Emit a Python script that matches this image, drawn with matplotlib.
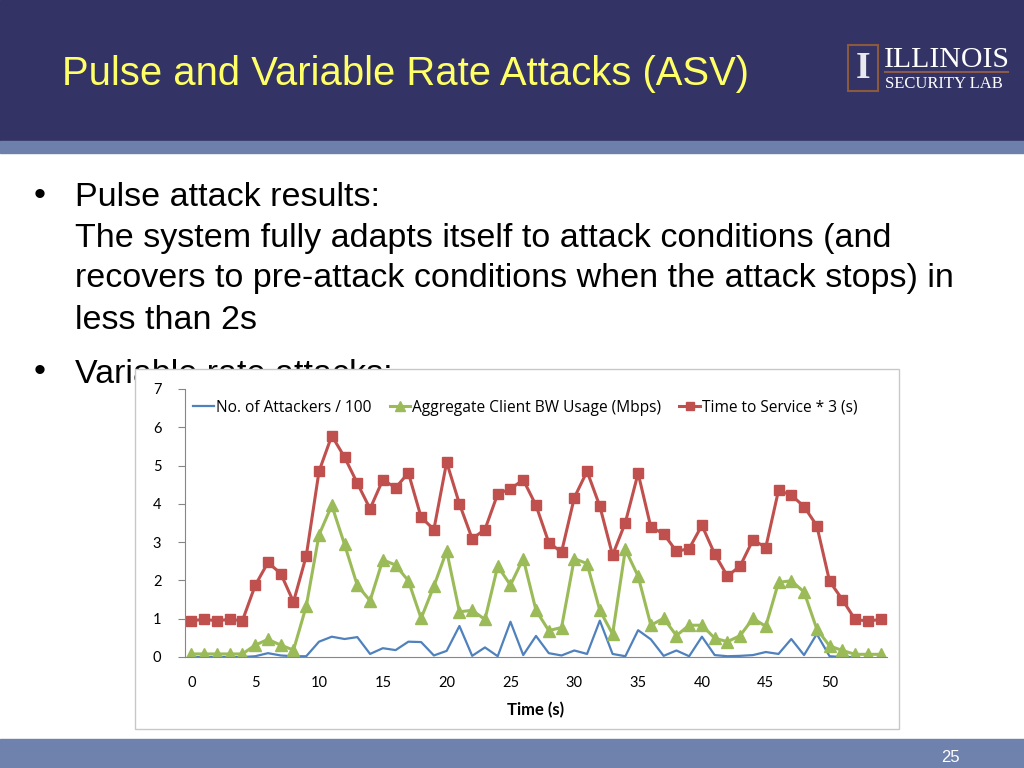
import matplotlib.pyplot as plt
from matplotlib.patches import Rectangle
from matplotlib.lines import Line2D
import numpy as np

# data, t = 0..54 s
time_s = list(range(55))
attackers = [0, 0, 0, 0, 0, 0.02, 0.10, 0.04, 0.02, 0.02,
             0.40, 0.53, 0.47, 0.52, 0.08, 0.23, 0.18, 0.40, 0.39, 0.04,
             0.16, 0.81, 0.03, 0.25, 0.02, 0.92, 0.05, 0.55, 0.10, 0.04,
             0.17, 0.08, 0.95, 0.08, 0.02, 0.70, 0.46, 0.03, 0.17, 0.02,
             0.53, 0.05, 0.02, 0.03, 0.05, 0.13, 0.08, 0.47, 0.05, 0.60,
             0.02, 0.0, 0.0, np.nan, np.nan]
client_bw = [0.08, 0.08, 0.08, 0.08, 0.08, 0.31, 0.46, 0.31, 0.18, 1.33,
             3.19, 3.96, 2.94, 1.87, 1.47, 2.54, 2.40, 1.99, 1.01, 1.85,
             2.77, 1.18, 1.22, 0.98, 2.37, 1.88, 2.57, 1.22, 0.69, 0.77,
             2.57, 2.44, 1.22, 0.60, 2.81, 2.11, 0.83, 1.01, 0.56, 0.83,
             0.83, 0.49, 0.40, 0.56, 1.01, 0.80, 1.95, 1.99, 1.70, 0.73,
             0.29, 0.17, 0.07, 0.07, 0.07]
service_time = [0.95, 0.98, 0.95, 0.98, 0.95, 1.87, 2.47, 2.18, 1.44, 2.64,
                4.85, 5.78, 5.22, 4.54, 3.87, 4.63, 4.42, 4.81, 3.65, 3.33,
                5.09, 4.00, 3.09, 3.33, 4.26, 4.39, 4.63, 3.96, 2.99, 2.74,
                4.16, 4.85, 3.94, 2.66, 3.51, 4.80, 3.39, 3.22, 2.76, 2.83,
                3.44, 2.69, 2.11, 2.38, 3.06, 2.86, 4.35, 4.23, 3.93, 3.43,
                1.98, 1.50, 0.98, 0.94, 0.98]
series_labels = ['No. of Attackers / 100', 'Aggregate Client BW Usage (Mbps)',
                 'Time to Service * 3 (s)']
x_ticks = [0, 5, 10, 15, 20, 25, 30, 35, 40, 45, 50]

title = 'Pulse and Variable Rate Attacks (ASV)'
bullets = ['Pulse attack results:',
           'The system fully adapts itself to attack conditions (and',
           'recovers to pre-attack conditions when the attack stops) in',
           'less than 2s']

W, H = 1024, 768
fig = plt.figure(figsize=(W / 100, H / 100), dpi=100)

def fx(px):
    return px / W

def fy(py):
    return 1 - py / H

# slide header and footer
fig.add_artist(Rectangle((0, fy(141)), 1, 141 / H, transform=fig.transFigure,
                         color='#333366', zorder=1))
fig.add_artist(Rectangle((0, fy(153)), 1, 12 / H, transform=fig.transFigure,
                         color='#6d80ab', zorder=1))
fig.add_artist(Rectangle((0, 0), 1, 29 / H, transform=fig.transFigure,
                         color='#6f82ad', zorder=1))
fig.text(fx(950), fy(757), '25', color='white', fontsize=12,
         family='Liberation Sans', ha='center', va='center', zorder=2)

fig.text(fx(62), fy(74), title, color='#ffff66', fontsize=28.8,
         family='Liberation Sans', va='center', zorder=2)

# logo
fig.add_artist(Rectangle((fx(848), fy(91)), 30 / W, 46 / H, transform=fig.transFigure,
                         facecolor='#333366', edgecolor='#8b5a3c', lw=1.5, zorder=2))
fig.text(fx(863), fy(68), 'I', color='#e8e8f0', fontsize=27, family='Liberation Serif',
         fontweight='bold', ha='center', va='center', zorder=3)
fig.text(fx(884), fy(60), 'ILLINOIS', color='white', fontsize=21.5,
         family='Liberation Serif', va='center', zorder=2)
fig.add_artist(Line2D([fx(885), fx(1008)], [fy(72), fy(72)], transform=fig.transFigure,
                      color='#8b5a4a', lw=1.5, zorder=2))
fig.text(fx(885), fy(84), 'SECURITY LAB', color='white', fontsize=12,
         family='Liberation Serif', va='center', zorder=2)

# bullets
ys = [197, 238, 279, 320]
fs = 24.5
fig.text(fx(34), fy(ys[0]), '\u2022', fontsize=fs, family='Liberation Sans',
         va='center', zorder=2)
for y, line in zip(ys, bullets):
    fig.text(fx(75), fy(y), line, fontsize=fs, family='Liberation Sans',
             va='center', zorder=2)
fig.text(fx(34), fy(372), '\u2022', fontsize=fs, family='Liberation Sans',
         va='center', zorder=2)
fig.text(fx(75), fy(374), 'Variable rate attacks:', fontsize=fs,
         family='Liberation Sans', va='center', zorder=2)

# chart frame
fig.add_artist(Rectangle((fx(135), fy(729)), 764 / W, 360 / H, transform=fig.transFigure,
                         facecolor='white', edgecolor='#c8c8c8', lw=1, zorder=4))

ax = fig.add_axes([fx(185), fy(657), 702 / W, 268 / H])
ax.set_zorder(5)
ax.patch.set_visible(False)

ax.plot(time_s, attackers, color='#4f81bd', lw=1.6, label=series_labels[0])
ax.plot(time_s, client_bw, color='#9bbb59', lw=2.2, marker='^', markersize=8,
        label=series_labels[1])
ax.plot(time_s, service_time, color='#c0504d', lw=2.2, marker='s', markersize=7.5,
        label=series_labels[2])

ax.set_xlim(-0.5, 54.5)
ax.set_ylim(0, 7)
ax.set_xticks(x_ticks)
ax.set_yticks(range(8))
for s in ['top', 'right']:
    ax.spines[s].set_visible(False)
for s in ['left', 'bottom']:
    ax.spines[s].set_color('#868686')
ax.tick_params(axis='x', length=0, pad=14, labelsize=10.5)
ax.tick_params(axis='y', length=5, color='#868686', pad=12, labelsize=10.5)
for lab in ax.get_xticklabels() + ax.get_yticklabels():
    lab.set_family('Lato')
ax.set_xlabel('Time (s)', fontsize=12, fontweight='bold', family='Lato', labelpad=8)

ax.legend(loc='center left', bbox_to_anchor=(0.012, 0.93), ncol=3, frameon=False,
          handlelength=1.3, handletextpad=0.12, columnspacing=1.2,
          borderaxespad=0, borderpad=0, markerscale=0.85,
          prop={'family': 'Open Sans', 'size': 11.2})

fig.savefig('out.png', dpi=100)
